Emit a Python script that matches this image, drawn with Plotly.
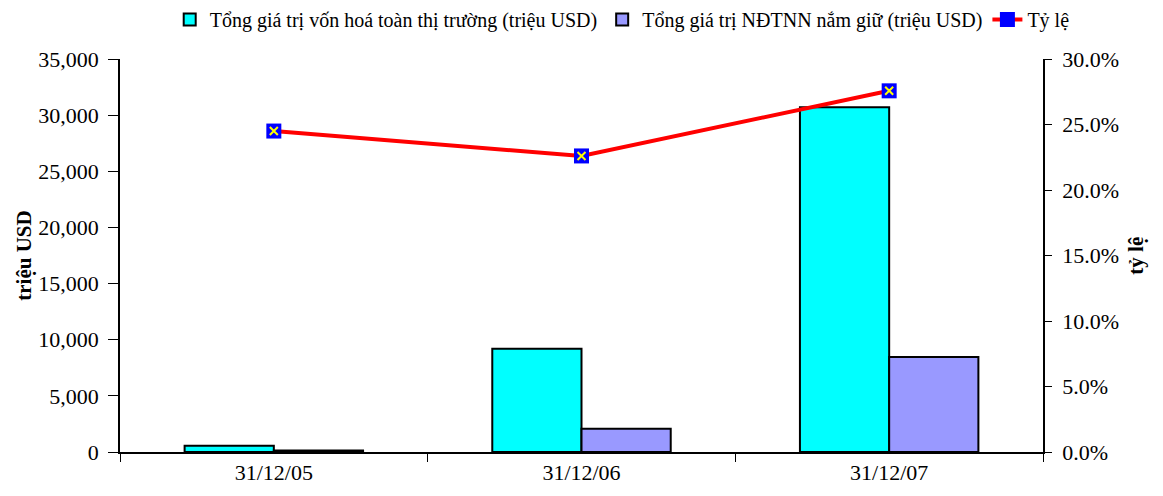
import plotly.graph_objects as go

categories = ["31/12/05", "31/12/06", "31/12/07"]
market_cap = [550, 9200, 30700]          # Tổng giá trị vốn hoá toàn thị trường (triệu USD)
foreign_held = [135, 2080, 8470]         # Tổng giá trị NĐTNN nắm giữ (triệu USD)
ratio = [0.245, 0.226, 0.2757]           # Tỷ lệ

left_ticks = [0, 5000, 10000, 15000, 20000, 25000, 30000, 35000]
right_ticks = [0, 0.05, 0.10, 0.15, 0.20, 0.25, 0.30]

FONT = "Liberation Serif, Times New Roman, DejaVu Serif, serif"
FS = 22

fig = go.Figure()
fig.add_trace(go.Bar(
    x=categories, y=market_cap, name="Tổng giá trị vốn hoá toàn thị trường (triệu USD)",
    marker=dict(color="#00FFFF", line=dict(color="black", width=2)),
))
fig.add_trace(go.Bar(
    x=categories, y=foreign_held, name="Tổng giá trị NĐTNN nắm giữ (triệu USD)",
    marker=dict(color="#9999FF", line=dict(color="black", width=2)),
))
fig.add_trace(go.Scatter(
    x=categories, y=ratio, name="Tỷ lệ", yaxis="y2", mode="lines+markers",
    line=dict(color="#FF0000", width=4),
    marker=dict(symbol="square", size=15, color="#0000FF", line=dict(width=0)),
))
# yellow cross drawn on top of each square marker
fig.add_trace(go.Scatter(
    x=categories, y=ratio, yaxis="y2", mode="markers", showlegend=False,
    marker=dict(symbol="x-thin", size=8, color="#FFFF00",
                line=dict(color="#FFFF00", width=2)),
    hoverinfo="skip",
))

fig.update_layout(
    width=1163, height=496,
    margin=dict(l=120, r=120, t=59, b=44, autoexpand=False),
    paper_bgcolor="white", plot_bgcolor="white",
    font=dict(family=FONT, size=FS, color="black"),
    barmode="group", bargap=0.42, bargroupgap=0,
    showlegend=True,
    legend=dict(orientation="h", x=0.535, xanchor="center", y=1.0, yanchor="top",
                yref="container", xref="container", font=dict(family=FONT, size=20),
                itemwidth=30, traceorder="normal", tracegroupgap=0),
    xaxis=dict(
        showline=True, linecolor="black", linewidth=1.5,
        ticks="outside", tickson="boundaries", ticklen=8, tickcolor="black",
        tickfont=dict(family=FONT, size=FS), showgrid=False, zeroline=False,
    ),
    yaxis=dict(
        range=[0, 35000], tickvals=left_ticks, tickformat=",d",
        showline=True, linecolor="black", linewidth=1.5,
        ticks="outside", ticklen=10, tickcolor="black", ticklabelstandoff=5,
        tickfont=dict(family=FONT, size=FS), showgrid=False, zeroline=False,
    ),
    yaxis2=dict(
        range=[0, 0.30], tickvals=right_ticks, tickformat=".1%",
        overlaying="y", side="right",
        showline=True, linecolor="black", linewidth=1.5,
        ticks="outside", ticklen=7, tickcolor="black", ticklabelstandoff=6,
        tickfont=dict(family=FONT, size=FS), showgrid=False, zeroline=False,
    ),
    annotations=[
        dict(text="<b>triệu USD</b>", textangle=-90, x=-0.12, xref="paper", y=0.5, yref="paper",
             showarrow=False, font=dict(family=FONT, size=21)),
        dict(text="<b>tỷ lệ</b>", textangle=-90, x=1.115, xref="paper", y=0.5, yref="paper",
             showarrow=False, font=dict(family=FONT, size=21)),
    ],
)

fig.write_html("out.html")
